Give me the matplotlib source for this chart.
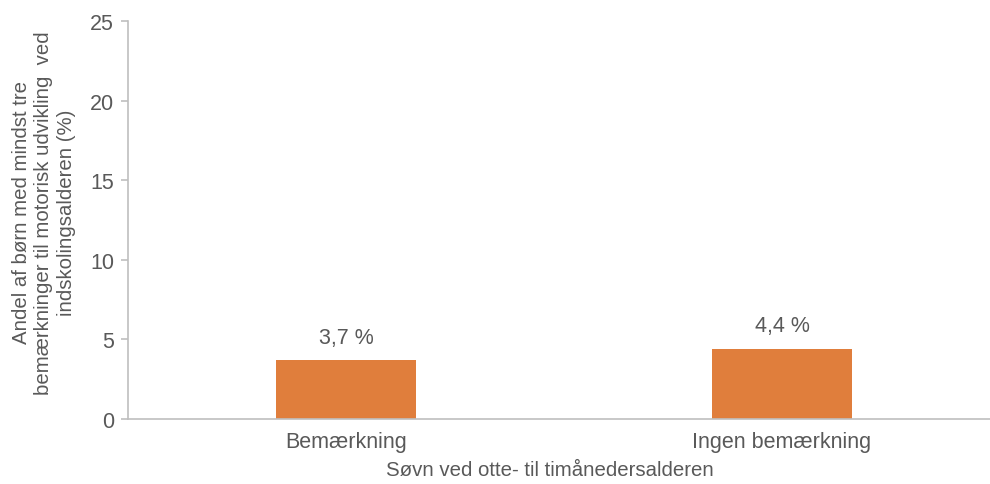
import matplotlib.pyplot as plt
import numpy as np

# Data
categories = ['Bemærkning', 'Ingen bemærkning']
values = [3.7, 4.4]
value_labels = ['3,7 %', '4,4 %']
y_ticks = [0, 5, 10, 15, 20, 25]

plt.rcParams['font.family'] = ['Liberation Sans', 'DejaVu Sans']
text_color = '#595959'
axis_color = '#BFBFBF'
fs = 15.5
fs_title = 14.7

fig = plt.figure(figsize=(9.9, 4.85), dpi=100)
ax = fig.add_axes([128 / 990, 65 / 485, 872 / 990, 398 / 485])

x = np.arange(len(categories))
bars = ax.bar(x, values, width=0.32, color='#E07E3C')

# Value labels above bars
for bar, lab in zip(bars, value_labels):
    ax.annotate(lab, (bar.get_x() + bar.get_width() / 2, bar.get_height()),
                xytext=(0, 9), textcoords='offset points',
                ha='center', va='bottom', fontsize=fs, color=text_color)

ax.set_xlim(-0.5, 1.5)
ax.set_ylim(0, 25)
ax.set_yticks(y_ticks)
ax.set_xticks(x)
ax.set_xticklabels(categories)

# Spines
for s in ['top', 'right']:
    ax.spines[s].set_visible(False)
ax.spines['left'].set_color(axis_color)
ax.spines['bottom'].set_color(axis_color)
ax.spines['left'].set_linewidth(1.2)
ax.spines['bottom'].set_linewidth(1.2)

ax.tick_params(axis='y', colors=axis_color, labelcolor=text_color, labelsize=fs,
               length=5, width=1.2, pad=5)
ax.tick_params(axis='x', length=0, labelcolor=text_color, labelsize=fs, pad=9)

fig.text(44 / 990, 1 - 213 / 485,
         'Andel af børn med mindst tre\nbemærkninger til motorisk udvikling  ved\nindskolingsalderen (%)',
         rotation=90, ha='center', va='center', multialignment='center',
         fontsize=fs_title, color=text_color, linespacing=1.2)

fig.text(550 / 990, 1 - 471 / 485, 'Søvn ved otte- til timånedersalderen',
         ha='center', va='center', fontsize=fs_title, color=text_color)

plt.savefig('out.png', dpi=100)
plt.close()
